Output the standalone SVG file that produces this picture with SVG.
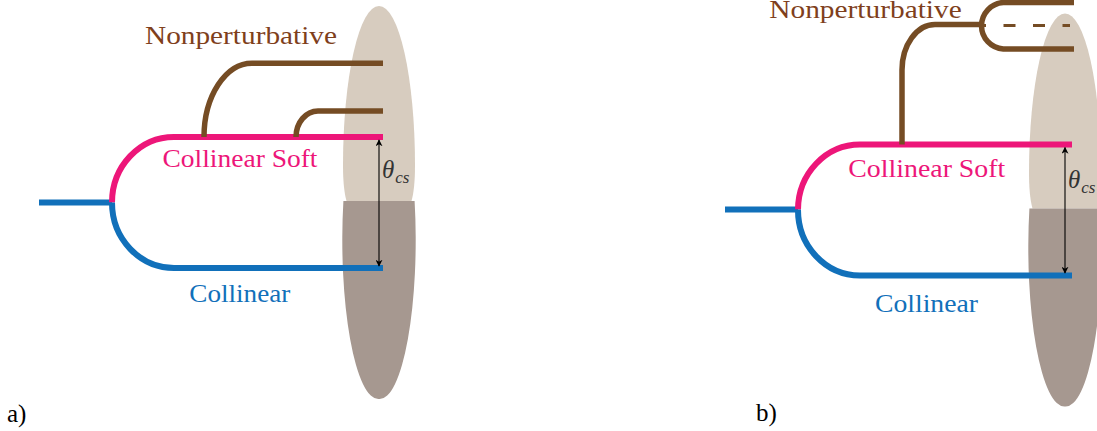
<svg xmlns="http://www.w3.org/2000/svg" width="1097" height="431" viewBox="0 0 1097 431">
<defs>
<style>
.light{fill:#d7ccbf}
.dark{fill:#a69890}
.ln{fill:none;stroke-width:6}
.pink{stroke:#ed1679}
.blue{stroke:#1170ba}
.brown{stroke:#754c24;fill:none;stroke-width:5.5}
.dash{stroke:#754c24;fill:none;stroke-width:3;stroke-dasharray:12 17.5}
.arr{stroke:#000;stroke-width:1.1;fill:none;marker-start:url(#ah);marker-end:url(#ah)}
text{font-family:"Liberation Serif","Times New Roman",serif;font-size:25px}
.tnp{fill:#7f3f1c}
.tpk{fill:#ed1679}
.tbl{fill:#1170ba}
.tth{fill:#333;font-style:italic}
.tsub{font-size:17px}
.tlab{fill:#000}
</style>
<marker id="ah" viewBox="0 0 10 10" refX="9" refY="5" markerWidth="7" markerHeight="7" markerUnits="userSpaceOnUse" orient="auto-start-reverse">
<path d="M0 0 L10 5 L0 10 L3 5 Z" fill="#000"/>
</marker>
</defs>

<g id="panel-a">
<g id="a-jet-region">
<path class="light" d="M346.5 201 C344 192 343 180 343 165 A36 159 0 0 1 415 165 C415 180 414 192 411.5 201 Z"/>
<path class="dark" d="M343.4 201 L414.6 201 A36 159 0 0 1 379 399 A36 159 0 0 1 343.4 201 Z"/>
</g>
<g id="a-connectors">
<path class="ln blue" d="M39 202.5 L112 202.5"/>
<path class="ln pink" d="M112 202.5 A62 65.5 0 0 1 174 137 L383 137"/>
<path class="ln blue" d="M112 202.5 A62 65.5 0 0 0 174 268 L383 268"/>
<path class="brown" d="M204 137 A48 74 0 0 1 252 63.3 L383 63.3"/>
<path class="brown" d="M296 137 A22 26 0 0 1 318 111 L383 111"/>
<line class="arr" x1="379" y1="140" x2="379" y2="266"/>
</g>
<g id="a-labels">
<text class="tnp" x="145" y="44.3" textLength="192" lengthAdjust="spacingAndGlyphs">Nonperturbative</text>
<text class="tpk" x="162.5" y="166.7" textLength="155" lengthAdjust="spacingAndGlyphs">Collinear Soft</text>
<text class="tbl" x="189.3" y="301.7" textLength="101" lengthAdjust="spacingAndGlyphs">Collinear</text>
<text class="tth" x="382" y="178">θ<tspan class="tsub" dx="1" dy="5">cs</tspan></text>
<text class="tlab" x="7" y="421.7">a)</text>
</g>
</g>

<g id="panel-b">
<g id="b-jet-region">
<path class="light" d="M1032.5 208.5 C1030 199.5 1029 187.5 1029 172.5 A36 159 0 0 1 1101 172.5 C1101 187.5 1100 199.5 1097.5 208.5 Z"/>
<path class="dark" d="M1029.4 208.5 L1100.6 208.5 A36 159 0 0 1 1065 406.5 A36 159 0 0 1 1029.4 208.5 Z"/>
</g>
<g id="b-connectors">
<path class="ln blue" d="M725 209.5 L798 209.5"/>
<path class="ln pink" d="M798 209.5 A62 65.5 0 0 1 860 144.5 L1072 144.5"/>
<path class="ln blue" d="M798 209.5 A62 65.5 0 0 0 860 275.5 L1072 275.5"/>
<path class="brown" d="M902 144.5 L902 70 A33 45.5 0 0 1 935 24.5 L981 24.5"/>
<path class="brown" d="M1074 2.5 L1003.3 2.5 A23.3 23.3 0 0 0 1003.3 49 L1074 49"/>
<path class="dash" d="M974 25.5 L1070 25.5"/>
<line class="arr" x1="1065" y1="147.5" x2="1065" y2="273"/>
</g>
<g id="b-labels">
<text class="tnp" x="769.3" y="18" textLength="192.4" lengthAdjust="spacingAndGlyphs">Nonperturbative</text>
<text class="tpk" x="848.3" y="177.3" textLength="157" lengthAdjust="spacingAndGlyphs">Collinear Soft</text>
<text class="tbl" x="875" y="311.7" textLength="103" lengthAdjust="spacingAndGlyphs">Collinear</text>
<text class="tth" x="1068" y="188">θ<tspan class="tsub" dx="1" dy="5">cs</tspan></text>
<text class="tlab" x="756" y="421">b)</text>
</g>
</g>
</svg>
